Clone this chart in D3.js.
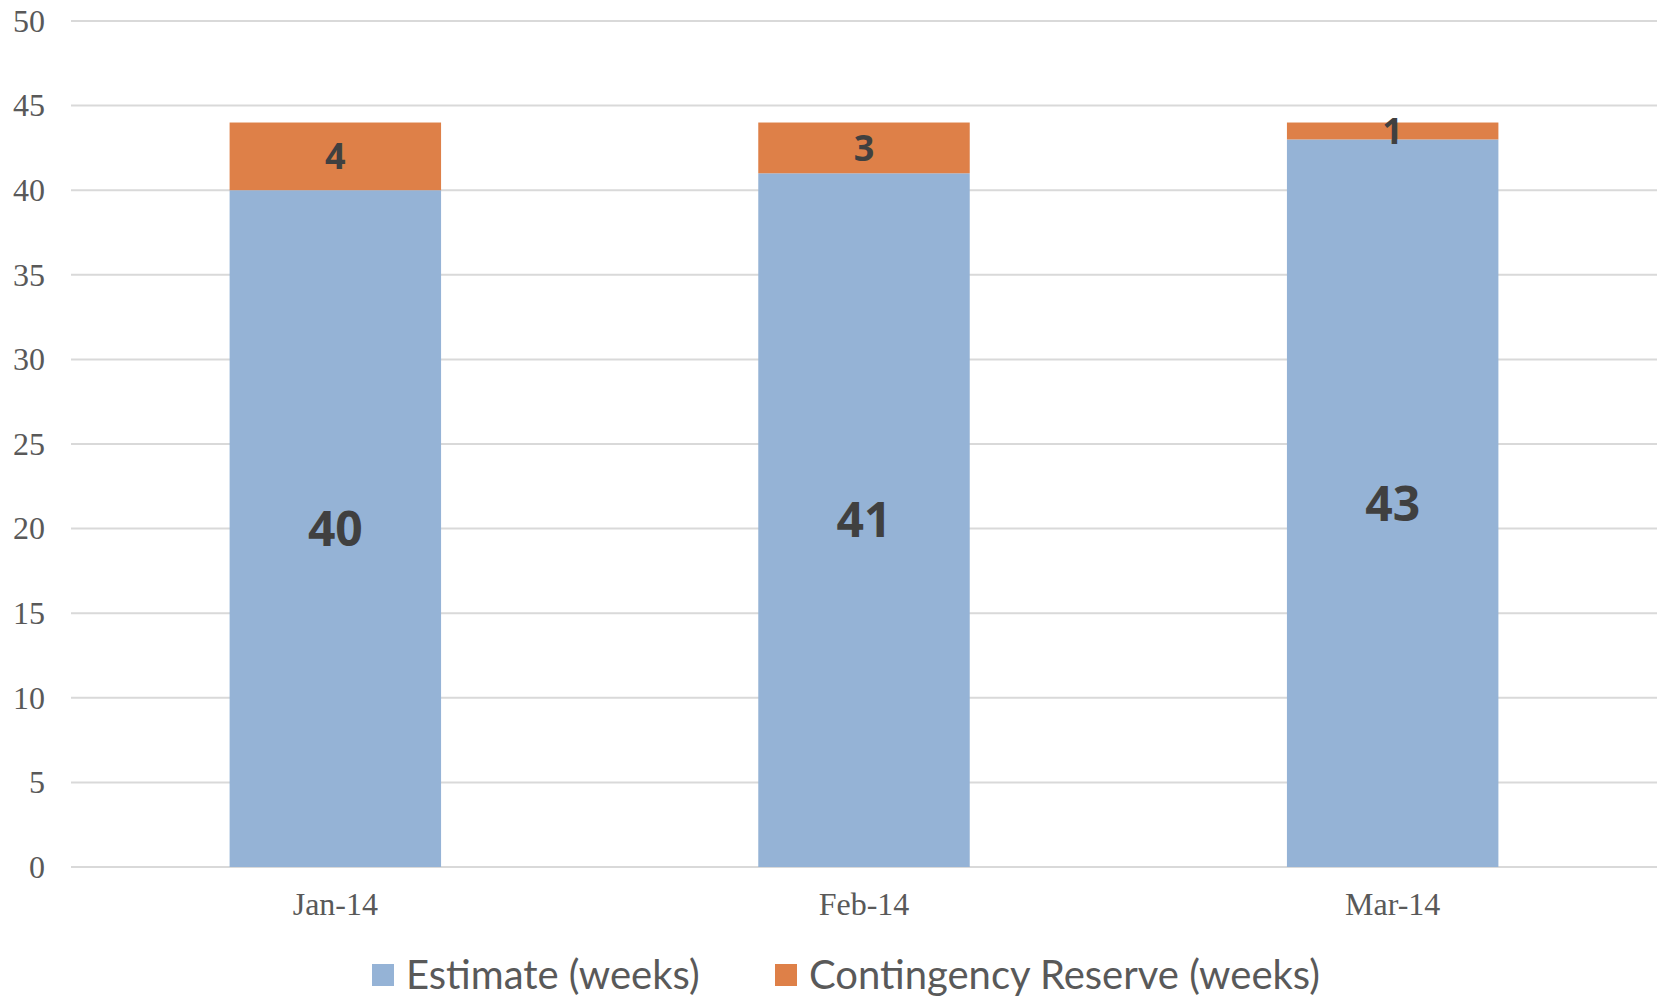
<!DOCTYPE html>
<html>
<head>
<meta charset="utf-8">
<script src="https://cdn.jsdelivr.net/npm/d3@7"></script>
<style>
  body { margin: 0; background: #fff; }
  svg { display: block; }
</style>
</head>
<body>
<svg id="chart"></svg>
<script>
// Chart data
const months = ["Jan-14", "Feb-14", "Mar-14"];
const estimate = [40, 41, 43];
const contingency = [4, 3, 1];
const seriesNames = ["Estimate (weeks)", "Contingency Reserve (weeks)"];
const yTicks = [0, 5, 10, 15, 20, 25, 30, 35, 40, 45, 50];

const width = 1663, height = 998;
const margin = { top: 21, right: 6, bottom: 131, left: 71 };

const svg = d3.select("#chart")
    .attr("width", width)
    .attr("height", height);

const x = d3.scaleBand()
    .domain(months)
    .range([margin.left, width - margin.right])
    .paddingInner(0.6)
    .paddingOuter(0.3);

const y = d3.scaleLinear()
    .domain([0, 50])
    .range([height - margin.bottom, margin.top]);

const colors = ["#95B3D6", "#DE8048"];

// gridlines
svg.append("g")
    .selectAll("line")
    .data(yTicks)
    .join("line")
    .attr("x1", margin.left)
    .attr("x2", width - margin.right)
    .attr("y1", d => y(d))
    .attr("y2", d => y(d))
    .attr("stroke", "#D9D9D9")
    .attr("stroke-width", 2);

// y axis labels
const yAxis = svg.append("g")
    .attr("transform", `translate(${margin.left - 26},0)`)
    .call(d3.axisLeft(y).tickValues(yTicks).tickSize(0).tickPadding(0));
yAxis.select(".domain").remove();
yAxis.selectAll("text")
    .attr("font-family", "'Liberation Serif', serif")
    .attr("font-size", 32)
    .attr("fill", "#595959");

// x axis labels
const xAxis = svg.append("g")
    .attr("transform", `translate(0,${y(0)})`)
    .call(d3.axisBottom(x).tickSize(0).tickPadding(25));
xAxis.select(".domain").remove();
xAxis.selectAll("text")
    .attr("font-family", "'Liberation Serif', serif")
    .attr("font-size", 32)
    .attr("fill", "#595959");

// stacked data
const rows = months.map((m, i) => ({ month: m, est: estimate[i], cont: contingency[i] }));
const stacked = d3.stack().keys(["est", "cont"])(rows);

const groups = svg.append("g")
    .selectAll("g")
    .data(stacked)
    .join("g")
    .attr("fill", (d, i) => colors[i]);

groups.selectAll("rect")
    .data(d => d)
    .join("rect")
    .attr("x", d => x(d.data.month))
    .attr("width", x.bandwidth())
    .attr("y", d => y(d[1]))
    .attr("height", d => y(d[0]) - y(d[1]));

// data labels
const labelSize = [48, 36];
groups.selectAll("text")
    .data((d, i) => d.map(p => ({ p, i })))
    .join("text")
    .attr("x", d => x(d.p.data.month) + x.bandwidth() / 2)
    .attr("y", d => y((d.p[0] + d.p[1]) / 2))
    .attr("dy", "0.36em")
    .attr("text-anchor", "middle")
    .attr("font-family", "'Open Sans', sans-serif")
    .attr("font-weight", 700)
    .attr("font-size", d => labelSize[d.i])
    .attr("fill", "#404040")
    .text(d => d.p[1] - d.p[0]);

// legend
const legendX = [372, 775];
const legend = svg.append("g")
    .selectAll("g")
    .data(seriesNames)
    .join("g")
    .attr("transform", (d, i) => `translate(${legendX[i]},964)`);

legend.append("rect")
    .attr("width", 22)
    .attr("height", 22)
    .attr("fill", (d, i) => colors[i]);

legend.append("text")
    .attr("x", 34)
    .attr("y", 25)
    .attr("font-family", "Lato, sans-serif")
    .attr("font-size", 40)
    .attr("fill", "#595959")
    .text(d => d);
</script>
</body>
</html>
